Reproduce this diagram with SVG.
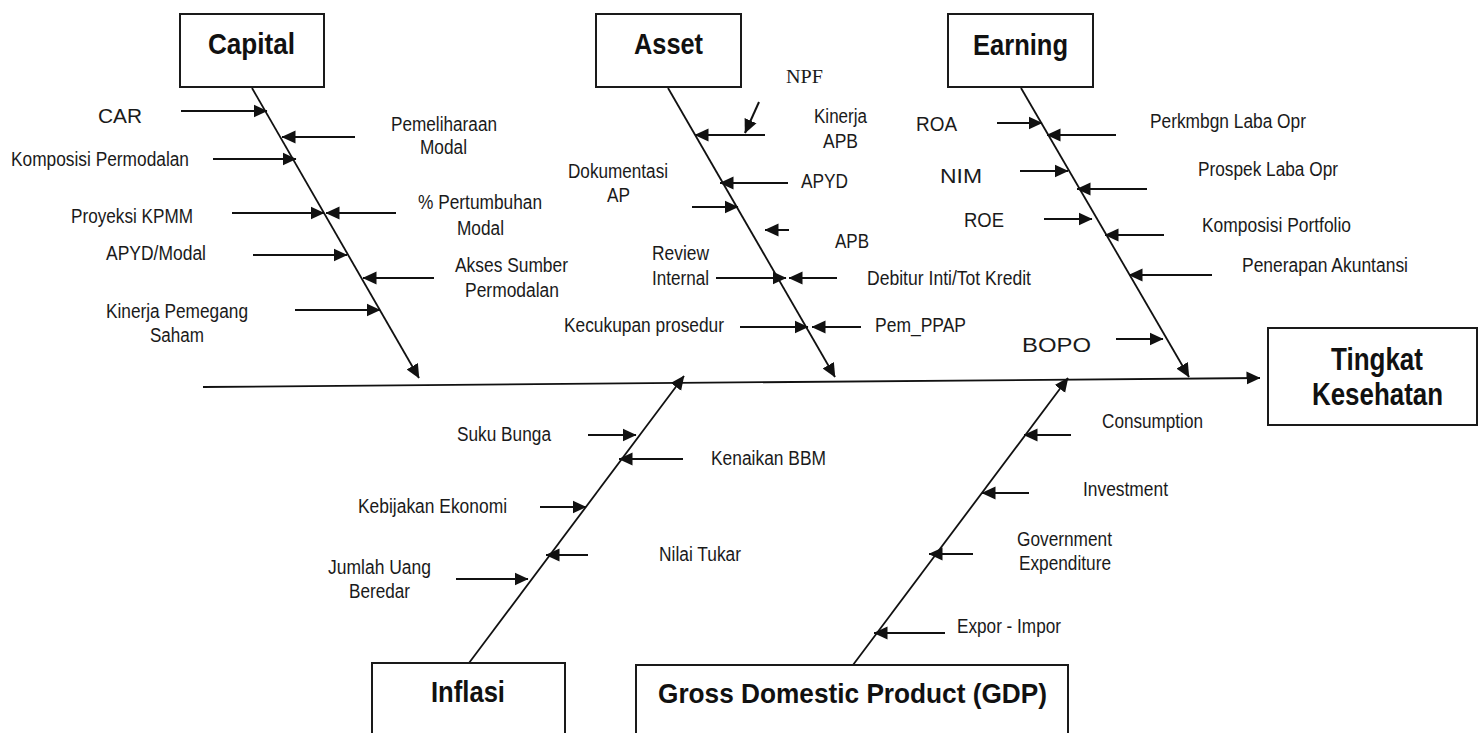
<svg xmlns="http://www.w3.org/2000/svg" width="1480" height="733" viewBox="0 0 1480 733">
<defs>
<style>
.box{fill:#fff;stroke:#1a1a1a;stroke-width:2}
.hd{font-family:"Liberation Sans Narrow","Liberation Sans",Arial,sans-serif;font-weight:bold;fill:#111}
.lb{font-family:"Liberation Sans Narrow","Liberation Sans",Arial,sans-serif;font-size:20px;fill:#1a1a1a}
.tm{font-family:"Liberation Serif","Times New Roman",serif;font-size:19px;fill:#1a1a1a}
.rib{stroke:#111;stroke-width:2;fill:none;marker-end:url(#ah)}
.sp{stroke:#111;stroke-width:1.8;fill:none;marker-end:url(#ah)}
</style>
<marker id="ah" markerUnits="userSpaceOnUse" viewBox="0 0 14 14" markerWidth="14" markerHeight="14" refX="13.5" refY="7" orient="auto">
<path d="M0,0.5 L14,7 L0,13.5 Z" fill="#111"/>
</marker>
</defs>
<rect width="1480" height="733" fill="#fff"/>

<g id="connectors">
<!-- main -->
<line class="sp" x1="203" y1="387" x2="1260" y2="378"/>
<!-- spines -->
<line class="sp" x1="252" y1="88" x2="419" y2="378"/>
<line class="sp" x1="668" y1="88" x2="835" y2="377"/>
<line class="sp" x1="1021" y1="88" x2="1189" y2="377"/>
<line class="sp" x1="469" y1="663" x2="684" y2="376"/>
<line class="sp" x1="853" y1="665" x2="1068" y2="378"/>
<!-- capital ribs -->
<line class="rib" x1="181" y1="111" x2="267" y2="111"/>
<line class="rib" x1="355" y1="137" x2="282" y2="137"/>
<line class="rib" x1="213" y1="159" x2="296" y2="159"/>
<line class="rib" x1="232" y1="213" x2="324" y2="213"/>
<line class="rib" x1="396" y1="213" x2="326" y2="213"/>
<line class="rib" x1="253" y1="255" x2="347" y2="255"/>
<line class="rib" x1="434" y1="278" x2="363" y2="278"/>
<line class="rib" x1="295" y1="310" x2="380" y2="310"/>
<!-- asset ribs -->
<line class="rib" x1="759" y1="102" x2="745" y2="133"/>
<line class="rib" x1="765" y1="135" x2="695" y2="135"/>
<line class="rib" x1="788" y1="183" x2="720" y2="183"/>
<line class="rib" x1="692" y1="207" x2="738" y2="207"/>
<line class="rib" x1="789" y1="230" x2="765" y2="230"/>
<line class="rib" x1="716" y1="278" x2="786" y2="278"/>
<line class="rib" x1="837" y1="278" x2="789" y2="278"/>
<line class="rib" x1="740" y1="327" x2="808" y2="327"/>
<line class="rib" x1="861" y1="327" x2="812" y2="327"/>
<!-- earning ribs -->
<line class="rib" x1="997" y1="123" x2="1042" y2="123"/>
<line class="rib" x1="1116" y1="135" x2="1047" y2="135"/>
<line class="rib" x1="1020" y1="171" x2="1068" y2="171"/>
<line class="rib" x1="1147" y1="189" x2="1077" y2="189"/>
<line class="rib" x1="1044" y1="219" x2="1092" y2="219"/>
<line class="rib" x1="1164" y1="235" x2="1105" y2="235"/>
<line class="rib" x1="1212" y1="275" x2="1129" y2="275"/>
<line class="rib" x1="1116" y1="339" x2="1163" y2="339"/>
<!-- inflasi ribs -->
<line class="rib" x1="588" y1="435" x2="636" y2="435"/>
<line class="rib" x1="683" y1="459" x2="619" y2="459"/>
<line class="rib" x1="540" y1="507" x2="586" y2="507"/>
<line class="rib" x1="588" y1="555" x2="546" y2="555"/>
<line class="rib" x1="456" y1="579" x2="528" y2="579"/>
<!-- gdp ribs -->
<line class="rib" x1="1071" y1="435" x2="1024" y2="435"/>
<line class="rib" x1="1029" y1="493" x2="982" y2="493"/>
<line class="rib" x1="973" y1="554" x2="929" y2="554"/>
<line class="rib" x1="945" y1="633" x2="874" y2="633"/>
</g>

<g id="capital">
<rect class="box" x="180" y="14" width="144" height="73"/>
<text class="hd" x="208" y="54" font-size="30" textLength="87" lengthAdjust="spacingAndGlyphs">Capital</text>
</g>
<g id="asset">
<rect class="box" x="596" y="14" width="145" height="73"/>
<text class="hd" x="634" y="54" font-size="30" textLength="69" lengthAdjust="spacingAndGlyphs">Asset</text>
</g>
<g id="earning">
<rect class="box" x="948" y="14" width="145" height="73"/>
<text class="hd" x="973" y="55" font-size="30" textLength="95" lengthAdjust="spacingAndGlyphs">Earning</text>
</g>
<g id="tingkat-kesehatan">
<rect class="box" x="1268" y="328" width="209" height="97"/>
<text class="hd" x="1331" y="370" font-size="31" textLength="92" lengthAdjust="spacingAndGlyphs">Tingkat</text>
<text class="hd" x="1312" y="405" font-size="31" textLength="131" lengthAdjust="spacingAndGlyphs">Kesehatan</text>
</g>
<g id="inflasi">
<rect class="box" x="372" y="663" width="193" height="80"/>
<text class="hd" x="431" y="702" font-size="29" textLength="74" lengthAdjust="spacingAndGlyphs">Inflasi</text>
</g>
<g id="gdp">
<rect class="box" x="636" y="665" width="432" height="80"/>
<text class="hd" x="658" y="703" font-size="28" textLength="389" lengthAdjust="spacingAndGlyphs">Gross Domestic Product (GDP)</text>
</g>

<g id="capital-labels">
<text class="lb" x="98" y="123" font-size="23" textLength="44" lengthAdjust="spacingAndGlyphs">CAR</text>
<text class="lb" x="11" y="166" textLength="178" lengthAdjust="spacingAndGlyphs">Komposisi Permodalan</text>
<text class="lb" x="391" y="131" textLength="106" lengthAdjust="spacingAndGlyphs">Pemeliharaan</text>
<text class="lb" x="420" y="154" textLength="47" lengthAdjust="spacingAndGlyphs">Modal</text>
<text class="lb" x="71" y="223" textLength="122" lengthAdjust="spacingAndGlyphs">Proyeksi KPMM</text>
<text class="lb" x="418" y="209" textLength="124" lengthAdjust="spacingAndGlyphs">% Pertumbuhan</text>
<text class="lb" x="457" y="235" textLength="47" lengthAdjust="spacingAndGlyphs">Modal</text>
<text class="lb" x="106" y="260" textLength="100" lengthAdjust="spacingAndGlyphs">APYD/Modal</text>
<text class="lb" x="455" y="272" textLength="113" lengthAdjust="spacingAndGlyphs">Akses Sumber</text>
<text class="lb" x="465" y="297" textLength="94" lengthAdjust="spacingAndGlyphs">Permodalan</text>
<text class="lb" x="106" y="318" textLength="142" lengthAdjust="spacingAndGlyphs">Kinerja Pemegang</text>
<text class="lb" x="150" y="342" textLength="54" lengthAdjust="spacingAndGlyphs">Saham</text>
</g>

<g id="asset-labels">
<text class="tm" x="786" y="83" textLength="37" lengthAdjust="spacingAndGlyphs">NPF</text>
<text class="lb" x="814" y="123" textLength="53" lengthAdjust="spacingAndGlyphs">Kinerja</text>
<text class="lb" x="823" y="148" textLength="35" lengthAdjust="spacingAndGlyphs">APB</text>
<text class="lb" x="568" y="178" textLength="100" lengthAdjust="spacingAndGlyphs">Dokumentasi</text>
<text class="lb" x="607" y="202" textLength="23" lengthAdjust="spacingAndGlyphs">AP</text>
<text class="lb" x="801" y="188" textLength="47" lengthAdjust="spacingAndGlyphs">APYD</text>
<text class="lb" x="835" y="248" textLength="34" lengthAdjust="spacingAndGlyphs">APB</text>
<text class="lb" x="652" y="260" textLength="57" lengthAdjust="spacingAndGlyphs">Review</text>
<text class="lb" x="652" y="285" textLength="57" lengthAdjust="spacingAndGlyphs">Internal</text>
<text class="lb" x="867" y="285" textLength="164" lengthAdjust="spacingAndGlyphs">Debitur Inti/Tot Kredit</text>
<text class="lb" x="564" y="332" textLength="160" lengthAdjust="spacingAndGlyphs">Kecukupan prosedur</text>
<text class="lb" x="875" y="332" textLength="91" lengthAdjust="spacingAndGlyphs">Pem_PPAP</text>
</g>

<g id="earning-labels">
<text class="lb" x="916" y="131" font-size="21" textLength="41" lengthAdjust="spacingAndGlyphs">ROA</text>
<text class="lb" x="940" y="183" font-size="28" textLength="42" lengthAdjust="spacingAndGlyphs">NIM</text>
<text class="lb" x="964" y="227" textLength="40" lengthAdjust="spacingAndGlyphs">ROE</text>
<text class="lb" x="1022" y="352" font-size="27" textLength="69" lengthAdjust="spacingAndGlyphs">BOPO</text>
<text class="lb" x="1150" y="128" textLength="156" lengthAdjust="spacingAndGlyphs">Perkmbgn Laba Opr</text>
<text class="lb" x="1198" y="176" textLength="140" lengthAdjust="spacingAndGlyphs">Prospek Laba Opr</text>
<text class="lb" x="1202" y="232" textLength="149" lengthAdjust="spacingAndGlyphs">Komposisi Portfolio</text>
<text class="lb" x="1242" y="272" textLength="166" lengthAdjust="spacingAndGlyphs">Penerapan Akuntansi</text>
</g>

<g id="inflasi-labels">
<text class="lb" x="457" y="441" textLength="94" lengthAdjust="spacingAndGlyphs">Suku Bunga</text>
<text class="lb" x="711" y="465" textLength="115" lengthAdjust="spacingAndGlyphs">Kenaikan BBM</text>
<text class="lb" x="358" y="513" textLength="149" lengthAdjust="spacingAndGlyphs">Kebijakan Ekonomi</text>
<text class="lb" x="659" y="561" textLength="82" lengthAdjust="spacingAndGlyphs">Nilai Tukar</text>
<text class="lb" x="328" y="574" textLength="103" lengthAdjust="spacingAndGlyphs">Jumlah Uang</text>
<text class="lb" x="349" y="598" textLength="61" lengthAdjust="spacingAndGlyphs">Beredar</text>
</g>

<g id="gdp-labels">
<text class="lb" x="1102" y="428" textLength="101" lengthAdjust="spacingAndGlyphs">Consumption</text>
<text class="lb" x="1083" y="496" textLength="85" lengthAdjust="spacingAndGlyphs">Investment</text>
<text class="lb" x="1017" y="546" textLength="95" lengthAdjust="spacingAndGlyphs">Government</text>
<text class="lb" x="1019" y="570" textLength="92" lengthAdjust="spacingAndGlyphs">Expenditure</text>
<text class="lb" x="957" y="633" textLength="104" lengthAdjust="spacingAndGlyphs">Expor - Impor</text>
</g>
</svg>
